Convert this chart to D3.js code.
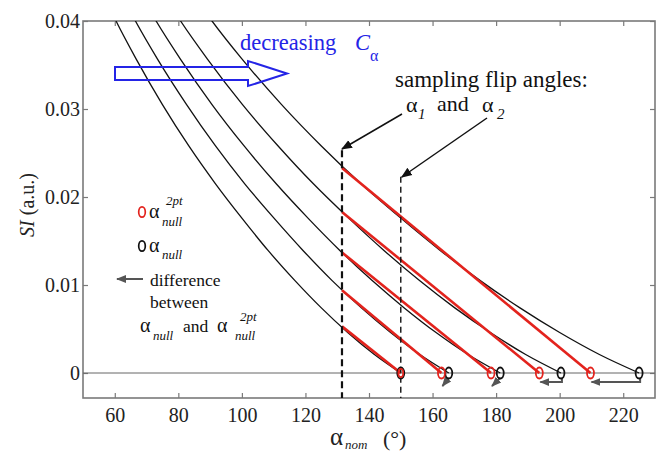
<!DOCTYPE html>
<html>
<head>
<meta charset="utf-8">
<script src="https://cdn.jsdelivr.net/npm/d3@7"></script>
<style>
  body { margin: 0; background: #fff; }
  text { font-family: "Liberation Serif", "DejaVu Serif", "Times New Roman", serif; }
</style>
</head>
<body>
<svg id="chart" width="660" height="453"></svg>
<script>
// signal levels (a.u.)
var siLevels = [0.0448, 0.040, 0.0357, 0.0305, 0.0258, 0.0215, 0.0176, 0.0139, 0.0105, 0.0074, 0.0046, 0.0021, 0];
// nominal flip angle where each curve reaches those levels
var curveA = [54.2, 60.4, 66.7, 75.0, 83.3, 91.7, 100.0, 108.3, 116.7, 125.0, 133.3, 141.7, 150.0];
var curveB = [59.6, 66.5, 73.4, 82.6, 91.7, 100.9, 110.1, 119.3, 128.4, 137.6, 146.8, 156.0, 165.1];
var curveC = [65.5, 73.0, 80.6, 90.6, 100.7, 110.8, 120.8, 130.9, 141.0, 151.1, 161.1, 171.2, 181.3];
var curveD = [72.4, 80.7, 89.1, 100.2, 111.4, 122.5, 133.6, 144.8, 155.9, 167.0, 178.2, 189.3, 200.4];
var curveE = [81.3, 90.6, 100.0, 112.5, 125.0, 137.5, 150.0, 162.5, 175.0, 187.5, 200.0, 212.5, 225.0];

// sampling flip angles
var alpha1 = 131.5;
var alpha2 = 150;
// SI of each curve at alpha1 (start of the red 2-point line)
var redStartSI = [0.0053, 0.0094, 0.0137, 0.0183, 0.0233];
// true null and 2-point estimated null
var nullTrue = [150, 165.1, 181.3, 200.4, 225];
var null2pt = [150, 162.8, 178.4, 193.6, 209.7];

var xTicks = [60, 80, 100, 120, 140, 160, 180, 200, 220];
var yTicks = [0, 0.01, 0.02, 0.03, 0.04];

var width = 660, height = 453;
var margin = {top: 21, right: 5, bottom: 55, left: 83};
var red = "#e3231d", blue = "#2424e6", gray = "#555";
var serif = "'Liberation Serif', 'DejaVu Serif', serif";

var svg = d3.select("#chart");

var x = d3.scaleLinear().domain([50, 230]).range([margin.left, width - margin.right]);
var y = d3.scaleLinear().domain([-0.00284, 0.04]).range([height - margin.bottom, margin.top]);

svg.append("defs").append("clipPath").attr("id", "plotclip")
  .append("rect")
  .attr("x", x.range()[0]).attr("y", y.range()[1])
  .attr("width", x.range()[1] - x.range()[0])
  .attr("height", y.range()[0] - y.range()[1]);

function addMarker(id, color, size) {
  svg.select("defs").append("marker")
    .attr("id", id)
    .attr("viewBox", "0 0 10 10")
    .attr("refX", 9).attr("refY", 5)
    .attr("markerWidth", size).attr("markerHeight", size)
    .attr("markerUnits", "userSpaceOnUse")
    .attr("orient", "auto")
    .append("path").attr("d", "M0,1 L10,5 L0,9 Z").attr("fill", color);
}
addMarker("headBlack", "#111", 11);
addMarker("headGray", gray, 10);

// axes: ticks inward on all four sides
var axisColor = "#7a7a7a";
var gBottom = svg.append("g").attr("transform", "translate(0," + y.range()[0] + ")")
  .call(d3.axisBottom(x).tickValues(xTicks).tickSize(-5).tickPadding(10));
var gLeft = svg.append("g").attr("transform", "translate(" + x.range()[0] + ",0)")
  .call(d3.axisLeft(y).tickValues(yTicks).tickSize(-5).tickPadding(3)
    .tickFormat(function(d) { return d === 0 ? "0" : d3.format(".2f")(d); }));
var gTop = svg.append("g").attr("transform", "translate(0," + y.range()[1] + ")")
  .call(d3.axisTop(x).tickValues(xTicks).tickSize(-5).tickFormat(""));
var gRight = svg.append("g").attr("transform", "translate(" + x.range()[1] + ",0)")
  .call(d3.axisRight(y).tickValues(yTicks).tickSize(-5).tickFormat(""));

[gBottom, gLeft, gTop, gRight].forEach(function(g) {
  g.attr("font-family", serif);
  g.select(".domain").remove();
  g.selectAll(".tick line").attr("stroke", axisColor).attr("stroke-width", 1.2);
  g.selectAll(".tick text").attr("fill", "#222").style("font-size", "20px")
    .style("font-family", serif);
});

svg.append("rect")
  .attr("x", x.range()[0]).attr("y", y.range()[1])
  .attr("width", x.range()[1] - x.range()[0])
  .attr("height", y.range()[0] - y.range()[1])
  .attr("fill", "none").attr("stroke", axisColor).attr("stroke-width", 1.6);

var plot = svg.append("g").attr("clip-path", "url(#plotclip)");

// zero line
plot.append("line")
  .attr("x1", x.range()[0]).attr("x2", x.range()[1])
  .attr("y1", y(0)).attr("y2", y(0))
  .attr("stroke", "#666").attr("stroke-width", 1);

// black SI curves
var curves = [curveA, curveB, curveC, curveD, curveE];
var line = d3.line()
  .x(function(d) { return x(d[0]); })
  .y(function(d) { return y(d[1]); })
  .curve(d3.curveMonotoneX);

plot.selectAll(".si-curve")
  .data(curves.map(function(c) { return c.map(function(a, i) { return [a, siLevels[i]]; }); }))
  .enter().append("path")
  .attr("class", "si-curve")
  .attr("d", line)
  .attr("fill", "none").attr("stroke", "#111").attr("stroke-width", 1.3);

// red two-point lines
plot.selectAll(".red-line")
  .data(redStartSI)
  .enter().append("line")
  .attr("class", "red-line")
  .attr("x1", x(alpha1)).attr("y1", function(d) { return y(d); })
  .attr("x2", function(d, i) { return x(null2pt[i]); }).attr("y2", y(0))
  .attr("stroke", red).attr("stroke-width", 2.6);

// sampling flip angle dashed lines
plot.append("line")
  .attr("x1", x(alpha1)).attr("x2", x(alpha1))
  .attr("y1", y(0.0253)).attr("y2", y.range()[0])
  .attr("stroke", "#111").attr("stroke-width", 2.2).attr("stroke-dasharray", "7,4");
plot.append("line")
  .attr("x1", x(alpha2)).attr("x2", x(alpha2))
  .attr("y1", y(0.0223)).attr("y2", y.range()[0])
  .attr("stroke", "#111").attr("stroke-width", 1.4).attr("stroke-dasharray", "6,4");

// difference arrows (below zero line)
nullTrue.forEach(function(n, i) {
  if (i === 0) return;
  var bx = x(n), rx = x(null2pt[i]), y0 = y(0);
  var d;
  if (bx - rx > 15) {
    d = "M" + (bx + 1) + "," + (y0 + 5) + " L" + (bx + 1) + "," + (y0 + 9) + " L" + (rx + 1) + "," + (y0 + 9);
  } else {
    d = "M" + bx + "," + (y0 + 5) + " L" + (rx + 1) + "," + (y0 + 13);
  }
  svg.append("path").attr("d", d)
    .attr("fill", "none").attr("stroke", gray).attr("stroke-width", 2)
    .attr("marker-end", "url(#headGray)");
});

// null markers
svg.selectAll(".null-true")
  .data(nullTrue)
  .enter().append("ellipse")
  .attr("cx", function(d) { return x(d); }).attr("cy", y(0))
  .attr("rx", 3.5).attr("ry", 5.5)
  .attr("fill", "none").attr("stroke", "#111").attr("stroke-width", 1.8);
svg.selectAll(".null-2pt")
  .data(null2pt)
  .enter().append("ellipse")
  .attr("cx", function(d) { return x(d); }).attr("cy", y(0))
  .attr("rx", function(d, i) { return i === 0 ? 2.4 : 3.5; })
  .attr("ry", function(d, i) { return i === 0 ? 4.2 : 5.5; })
  .attr("fill", "none").attr("stroke", red).attr("stroke-width", 1.8);

// axis titles
var yl = svg.append("text")
  .attr("transform", "translate(34,205) rotate(-90)")
  .attr("text-anchor", "middle").style("font-size", "20px").attr("fill", "#222");
yl.append("tspan").style("font-style", "italic").text("SI");
yl.append("tspan").text(" (a.u.)");

svg.append("text").attr("x", 330).attr("y", 445).style("font-size", "25px").attr("fill", "#222").text("α");
svg.append("text").attr("x", 345).attr("y", 449).style("font-size", "13px").style("font-style", "italic").attr("fill", "#222").text("nom");
svg.append("text").attr("x", 383).attr("y", 446).style("font-size", "22px").attr("fill", "#222").text("(°)");

// decreasing C_alpha annotation
svg.append("text").attr("x", 240).attr("y", 50).style("font-size", "22.5px").attr("fill", blue).text("decreasing");
svg.append("text").attr("x", 355).attr("y", 50).style("font-size", "22.5px").style("font-style", "italic").attr("fill", blue).text("C");
svg.append("text").attr("x", 370).attr("y", 61).style("font-size", "16px").attr("fill", blue).text("α");

svg.append("path")
  .attr("d", "M115,67 L248,67 L248,61 L287,73.5 L248,86 L248,80 L115,80 Z")
  .attr("fill", "none").attr("stroke", blue).attr("stroke-width", 2);

// sampling flip angles annotation
svg.append("text").attr("x", 395).attr("y", 87).style("font-size", "23px").attr("fill", "#111").text("sampling flip angles:");
svg.append("text").attr("x", 406).attr("y", 112).style("font-size", "22px").attr("fill", "#111").text("α");
svg.append("text").attr("x", 418).attr("y", 119).style("font-size", "15px").style("font-style", "italic").attr("fill", "#111").text("1");
svg.append("text").attr("x", 437).attr("y", 111).style("font-size", "22px").attr("fill", "#111").text("and");
svg.append("text").attr("x", 482).attr("y", 112).style("font-size", "22px").attr("fill", "#111").text("α");
svg.append("text").attr("x", 497).attr("y", 119).style("font-size", "15px").style("font-style", "italic").attr("fill", "#111").text("2");

svg.append("line").attr("x1", 402).attr("y1", 114).attr("x2", x(alpha1)).attr("y2", 149)
  .attr("stroke", "#111").attr("stroke-width", 1.5).attr("marker-end", "url(#headBlack)");
svg.append("line").attr("x1", 487).attr("y1", 118).attr("x2", x(alpha2) + 1).attr("y2", 177)
  .attr("stroke", "#111").attr("stroke-width", 1.5).attr("marker-end", "url(#headBlack)");

// legend
svg.append("ellipse").attr("cx", 142).attr("cy", 212).attr("rx", 3.3).attr("ry", 5.2)
  .attr("fill", "none").attr("stroke", red).attr("stroke-width", 1.7);
svg.append("text").attr("x", 149).attr("y", 218).style("font-size", "20px").attr("fill", "#111").text("α");
svg.append("text").attr("x", 166).attr("y", 205).style("font-size", "13px").style("font-style", "italic").attr("fill", "#111").text("2pt");
svg.append("text").attr("x", 162).attr("y", 226).style("font-size", "13px").style("font-style", "italic").attr("fill", "#111").text("null");

svg.append("ellipse").attr("cx", 142).attr("cy", 246).attr("rx", 3.3).attr("ry", 5.2)
  .attr("fill", "none").attr("stroke", "#111").attr("stroke-width", 1.7);
svg.append("text").attr("x", 149).attr("y", 252).style("font-size", "20px").attr("fill", "#111").text("α");
svg.append("text").attr("x", 162).attr("y", 259).style("font-size", "13px").style("font-style", "italic").attr("fill", "#111").text("null");

svg.append("line").attr("x1", 143).attr("y1", 279).attr("x2", 117).attr("y2", 279)
  .attr("stroke", gray).attr("stroke-width", 2).attr("marker-end", "url(#headGray)");
svg.append("text").attr("x", 150).attr("y", 286).style("font-size", "17.5px").attr("fill", "#111").text("difference");
svg.append("text").attr("x", 150).attr("y", 308).style("font-size", "17.5px").attr("fill", "#111").text("between");
svg.append("text").attr("x", 140).attr("y", 332).style("font-size", "20px").attr("fill", "#111").text("α");
svg.append("text").attr("x", 153).attr("y", 340).style("font-size", "13px").style("font-style", "italic").attr("fill", "#111").text("null");
svg.append("text").attr("x", 183).attr("y", 332).style("font-size", "17.5px").attr("fill", "#111").text("and");
svg.append("text").attr("x", 217).attr("y", 332).style("font-size", "20px").attr("fill", "#111").text("α");
svg.append("text").attr("x", 240).attr("y", 321).style("font-size", "13px").style("font-style", "italic").attr("fill", "#111").text("2pt");
svg.append("text").attr("x", 235).attr("y", 340).style("font-size", "13px").style("font-style", "italic").attr("fill", "#111").text("null");
</script>
</body>
</html>
